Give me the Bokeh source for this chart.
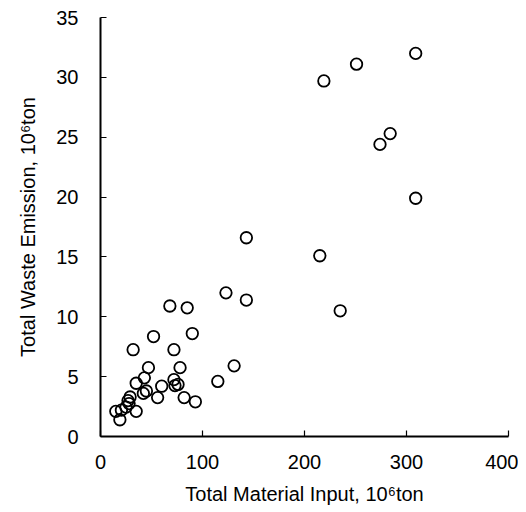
from bokeh.plotting import figure
from bokeh.models import FixedTicker, ColumnDataSource
from bokeh.embed import file_html
from bokeh.resources import INLINE

material_input = [309, 251, 219, 284, 274, 309, 143, 215, 123, 143, 235,
                  68, 85, 52, 90, 32, 72, 47, 78, 131, 115, 43, 35, 72, 73,
                  76, 60, 42, 45, 56, 82, 93, 29, 27, 28, 25, 20.5, 15, 35, 19]
waste_emission = [32.0, 31.1, 29.7, 25.3, 24.4, 19.9, 16.6, 15.1, 12.0, 11.4, 10.5,
                  10.9, 10.75, 8.35, 8.6, 7.25, 7.25, 5.75, 5.75, 5.9, 4.6, 4.9, 4.45, 4.75, 4.25,
                  4.35, 4.2, 3.6, 3.8, 3.25, 3.25, 2.9, 3.3, 3.0, 2.75, 2.45, 2.2, 2.1, 2.1, 1.4]
x_ticks = [0, 100, 200, 300, 400]
y_ticks = [0, 5, 10, 15, 20, 25, 30, 35]

src = ColumnDataSource(data=dict(x=material_input, y=waste_emission))

p = figure(width=518, height=510, output_backend="svg", toolbar_location=None,
           x_range=(0, 400), y_range=(0, 35),
           frame_width=408, frame_height=419,
           min_border_left=100, min_border_right=10, min_border_top=17, min_border_bottom=74)
p.outline_line_color = None
p.xgrid.grid_line_color = None
p.ygrid.grid_line_color = None

p.scatter("x", "y", source=src, marker="circle", size=11.5,
          fill_color=None, line_color="black", line_width=1.8)

font = "Liberation Sans"
for ax in (p.xaxis[0], p.yaxis[0]):
    ax.axis_line_width = 2
    ax.axis_line_color = "black"
    ax.major_tick_in = 6
    ax.major_tick_out = 0
    ax.major_tick_line_color = "black"
    ax.major_tick_line_width = 1.2
    ax.minor_tick_line_color = None
    ax.major_label_text_font = font
    ax.major_label_text_font_size = "20px"
    ax.major_label_text_color = "black"
    ax.axis_label_text_font = font
    ax.axis_label_text_font_size = "20px"
    ax.axis_label_text_font_style = "normal"
    ax.axis_label_text_color = "black"

p.xaxis[0].ticker = FixedTicker(ticks=x_ticks)
p.yaxis[0].ticker = FixedTicker(ticks=y_ticks)
p.xaxis[0].major_label_standoff = 18
p.yaxis[0].major_label_standoff = 22
p.xaxis[0].axis_label = "Total Material Input, 10\u2076ton"
p.yaxis[0].axis_label = "Total Waste Emission, 10\u2076ton"
p.xaxis[0].axis_label_standoff = 11
p.yaxis[0].axis_label_standoff = 14

open("out.html", "w").write(file_html(p, INLINE))
